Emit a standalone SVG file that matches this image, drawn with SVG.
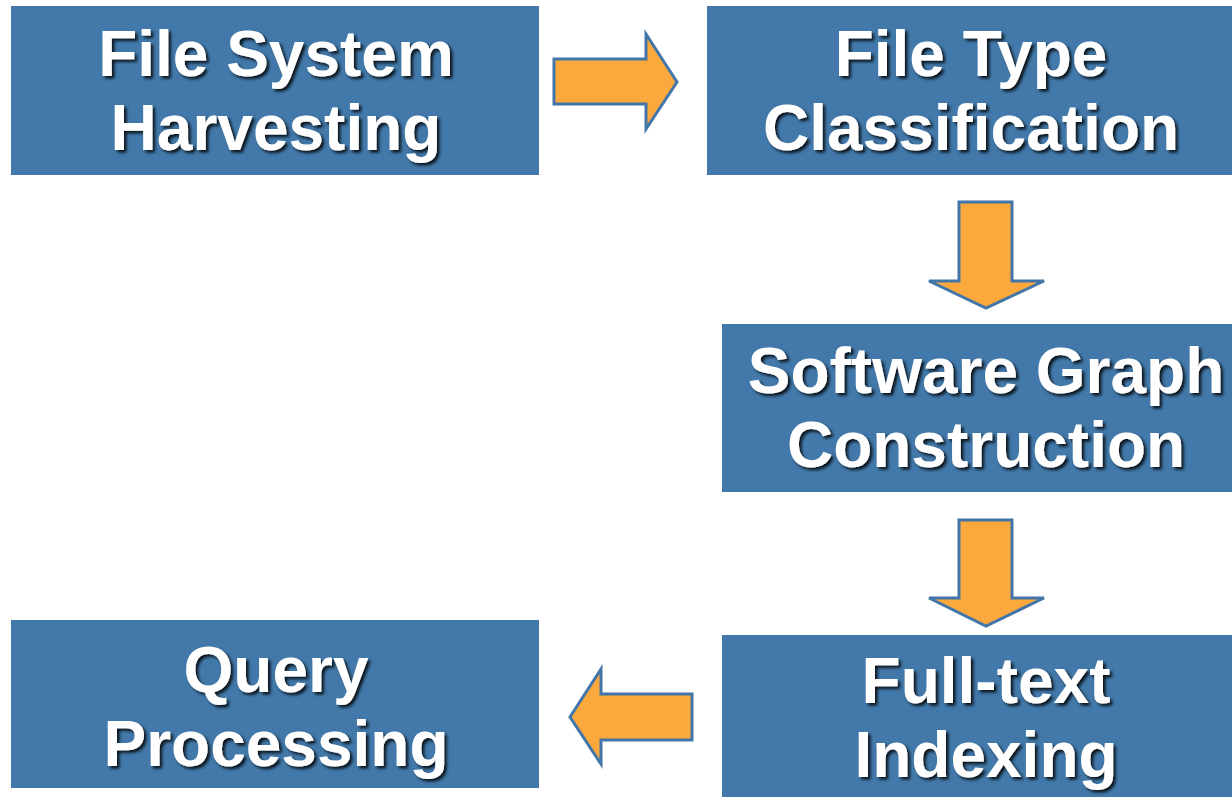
<svg xmlns="http://www.w3.org/2000/svg" width="1232" height="797" viewBox="0 0 1232 797">
  <defs>
    <filter id="shadow" x="-10%" y="-20%" width="120%" height="140%">
      <feDropShadow dx="2.5" dy="2.5" stdDeviation="1.5" flood-color="#000" flood-opacity="0.85"/>
    </filter>
  </defs>
  <style>
    .box { fill: #4279AA; }
    .label { font-family: "Liberation Sans", Arial, sans-serif; font-weight: bold; font-size: 64px; fill: #ffffff; text-anchor: middle; filter: url(#shadow); }
    .arrow { fill: #FBA83D; stroke: #4376A8; stroke-width: 3; stroke-linejoin: miter; }
  </style>
  <rect width="1232" height="797" fill="#ffffff"/>

  <g id="harvesting">
    <rect class="box" x="11" y="6" width="528" height="169"/>
    <text class="label" x="276" y="76">File System</text>
    <text class="label" x="276" y="150">Harvesting</text>
  </g>

  <g id="classification">
    <rect class="box" x="707" y="6" width="530" height="169"/>
    <text class="label" x="971" y="76">File Type</text>
    <text class="label" x="971" y="150">Classification</text>
  </g>

  <g id="graph-construction">
    <rect class="box" x="722" y="324" width="515" height="168"/>
    <text class="label" x="986" y="393">Software Graph</text>
    <text class="label" x="986" y="467">Construction</text>
  </g>

  <g id="indexing">
    <rect class="box" x="722" y="635" width="515" height="167"/>
    <text class="label" x="986" y="703">Full-text</text>
    <text class="label" x="986" y="777">Indexing</text>
  </g>

  <g id="query-processing">
    <rect class="box" x="11" y="620" width="528" height="168"/>
    <text class="label" x="276" y="692">Query</text>
    <text class="label" x="276" y="766">Processing</text>
  </g>

  <g id="connectors">
    <path class="arrow" d="M554,59 H646 V34 L677,82 L646,129 V104 H554 Z"/>
    <path class="arrow" d="M959,202 H1012 V281 H1044 L986,308 L929,281 H959 Z"/>
    <path class="arrow" d="M959,520 H1012 V598 H1044 L986,626 L929,598 H959 Z"/>
    <path class="arrow" d="M692,694 V740 H601 V764 L570,717 L601,669 V694 Z"/>
  </g>
</svg>
